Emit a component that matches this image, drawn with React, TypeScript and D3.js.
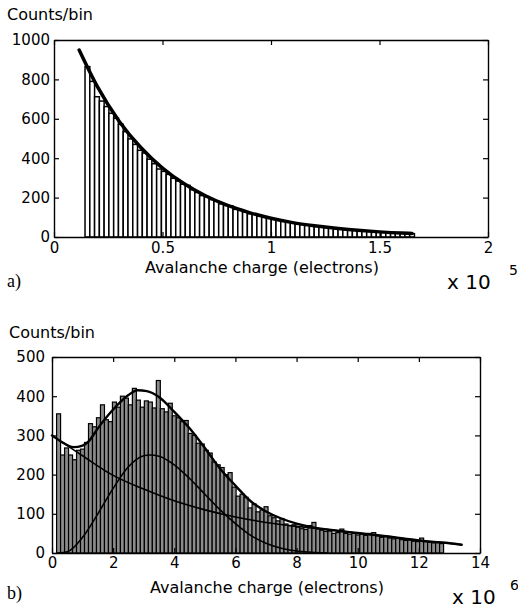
import { useEffect, useRef } from "react";
import * as d3 from "d3";

// panel a) : histogram, x in units of 10^5 electrons
const binStartA = 0.143;
const binWidthA = 0.022;
const countsA = [
  865, 790, 712, 690, 662, 628, 603, 572, 535, 498, 470, 440, 426, 395, 372,
  345, 333, 318, 298, 284, 268, 262, 240, 226, 210, 205, 190, 182, 168, 160,
  158, 140, 135, 128, 118, 115, 106, 100, 95, 90, 86, 80, 76, 72, 68, 64, 60,
  57, 54, 50, 48, 45, 42, 40, 38, 36, 34, 32, 30, 28, 27, 25, 24, 22, 21, 20,
  19, 18, 17,
];
const fitAX = [0.116, 0.2, 0.3, 0.4, 0.5, 0.6, 0.7, 0.8, 0.9, 1.0, 1.1, 1.2, 1.3, 1.4, 1.5, 1.6, 1.65];
const fitAY = [949, 763, 588, 454, 350, 270, 208, 160, 124, 95, 73, 57, 44, 34, 26, 20, 18];
const xTicksA = [0, 0.5, 1, 1.5, 2];
const yTicksA = [0, 200, 400, 600, 800, 1000];

// panel b) : histogram, x in units of 10^6 electrons
const binStartB = 0.15;
const binWidthB = 0.1305;
const countsB = [
  355, 250, 268, 250, 238, 262, 265, 282, 330, 322, 345, 378, 340, 335, 385,
  372, 400, 395, 378, 420, 390, 372, 388, 385, 370, 440, 368, 360, 382, 350,
  345, 335, 338, 305, 300, 280, 278, 262, 255, 232, 225, 218, 200, 205, 168,
  145, 150, 142, 115, 125, 105, 110, 118, 95, 90, 82, 88, 74, 70, 72, 66, 62,
  60, 70, 78, 62, 58, 55, 56, 50, 52, 61, 50, 48, 50, 46, 48, 45, 50, 52, 44,
  40, 42, 38, 36, 38, 34, 32, 33, 30, 29, 38, 30, 28, 26, 28, 24,
];
const totalX = [0, 0.3, 0.7, 1.0, 1.2, 1.5, 2.0, 2.5, 2.8, 3.1, 3.5, 4.0, 4.5, 5.0, 5.5, 6.0, 6.5, 7.0, 7.5, 8.0, 8.5, 9.0, 10, 11, 12, 12.5, 13.0, 13.4];
const totalY = [300, 284, 270, 274, 285, 318, 366, 403, 415, 413, 398, 360, 318, 268, 215, 172, 132, 106, 88, 75, 66, 60, 51, 42, 32, 28, 25, 21];
const expX = [0, 1, 2, 3, 4, 5, 6, 7, 8, 9, 10, 11, 12, 13, 13.4];
const expY = [300, 248, 198, 163, 133, 110, 92, 78, 68, 60, 51, 42, 32, 25, 21];
const gausX = [0.2, 0.5, 1.0, 1.5, 2.0, 2.5, 3.0, 3.2, 3.5, 4.0, 4.5, 5.0, 5.5, 6.0, 6.5, 7.0, 7.5, 8.0, 8.5, 9.0];
const gausY = [0, 3, 40, 100, 165, 220, 248, 250, 247, 225, 190, 150, 110, 75, 45, 25, 12, 5, 2, 0];
const xTicksB = [0, 2, 4, 6, 8, 10, 12, 14];
const yTicksB = [0, 100, 200, 300, 400, 500];

const SANS = "'DejaVu Sans', Verdana, sans-serif";
const SERIF = "'Liberation Serif', 'Times New Roman', serif";

interface Curve { xs: number[]; ys: number[]; w: number }
interface Panel {
  left: number; right: number; top: number; bottom: number;
  xDomain: [number, number]; yDomain: [number, number];
  xTicks: number[]; yTicks: number[];
  binStart: number; binWidth: number; counts: number[];
  barFill: string; barStroke: number;
  curves: Curve[];
  yPad: number; xPad: number;
}

function drawPanel(svg: d3.Selection<SVGSVGElement, unknown, null, undefined>, p: Panel) {
  const x = d3.scaleLinear().domain(p.xDomain).range([p.left, p.right]);
  const y = d3.scaleLinear().domain(p.yDomain).range([p.bottom, p.top]);
  const g = svg.append("g");

  // bars
  g.selectAll("rect.bar")
    .data(p.counts)
    .enter()
    .append("rect")
    .attr("class", "bar")
    .attr("x", (_d, i) => x(p.binStart + i * p.binWidth))
    .attr("width", x(p.binWidth) - x(0))
    .attr("y", (d) => y(d))
    .attr("height", (d) => y(0) - y(d))
    .attr("fill", p.barFill)
    .attr("stroke", "#000")
    .attr("stroke-width", p.barStroke);

  // fitted curves
  const line = d3
    .line<[number, number]>()
    .x((d) => x(d[0]))
    .y((d) => y(d[1]))
    .curve(d3.curveMonotoneX);
  p.curves.forEach((c) => {
    g.append("path")
      .datum(c.xs.map((v, i) => [v, c.ys[i]] as [number, number]))
      .attr("d", line)
      .attr("fill", "none")
      .attr("stroke", "#000")
      .attr("stroke-width", c.w)
      .attr("stroke-linejoin", "round")
      .attr("stroke-linecap", "round");
  });

  // axes, ticks pointing inwards
  const style = (a: d3.Selection<SVGGElement, unknown, null, undefined>) => {
    a.attr("font-family", SANS).attr("font-size", 15);
    a.select(".domain").attr("stroke-width", 1.4);
    a.selectAll(".tick line").attr("stroke-width", 1.2);
    a.selectAll(".tick text").attr("fill", "#000");
  };
  const fmt = (d: d3.NumberValue) => String(d);
  g.append("g")
    .attr("transform", `translate(${p.left},0)`)
    .call(d3.axisLeft(y).tickValues(p.yTicks).tickSize(-5).tickSizeOuter(0).tickPadding(p.yPad).tickFormat(fmt))
    .call(style);
  g.append("g")
    .attr("transform", `translate(${p.right},0)`)
    .call(d3.axisRight(y).tickValues(p.yTicks).tickSize(-5).tickSizeOuter(0).tickFormat(() => ""))
    .call(style);
  g.append("g")
    .attr("transform", `translate(0,${p.top})`)
    .call(d3.axisTop(x).tickValues(p.xTicks).tickSize(-5).tickSizeOuter(0).tickFormat(() => ""))
    .call(style);
  g.append("g")
    .attr("transform", `translate(0,${p.bottom})`)
    .call(d3.axisBottom(x).tickValues(p.xTicks).tickSize(-5).tickSizeOuter(0).tickPadding(p.xPad).tickFormat(fmt))
    .call(style);
}

const App = () => {
  const svgRef = useRef<SVGSVGElement | null>(null);

  useEffect(() => {
    const svg = d3.select(svgRef.current as SVGSVGElement);
    svg.selectAll("*").remove();

    drawPanel(svg, {
      left: 54, right: 488, top: 40, bottom: 237,
      xDomain: [0, 2], yDomain: [0, 1000],
      xTicks: xTicksA, yTicks: yTicksA,
      binStart: binStartA, binWidth: binWidthA, counts: countsA,
      barFill: "#fff", barStroke: 1.5,
      curves: [{ xs: fitAX, ys: fitAY, w: 3.5 }],
      yPad: 4, xPad: 5,
    });

    drawPanel(svg, {
      left: 52, right: 480, top: 357, bottom: 553,
      xDomain: [0, 14], yDomain: [0, 500],
      xTicks: xTicksB, yTicks: yTicksB,
      binStart: binStartB, binWidth: binWidthB, counts: countsB,
      barFill: "#8c8c8c", barStroke: 1.2,
      curves: [
        { xs: expX, ys: expY, w: 1.6 },
        { xs: gausX, ys: gausY, w: 1.6 },
        { xs: totalX, ys: totalY, w: 2.4 },
      ],
      yPad: 7, xPad: 4,
    });

    // labels
    const txt = (s: string, xx: number, yy: number, size: number, anchor = "start", family = SANS) =>
      svg.append("text")
        .attr("x", xx).attr("y", yy)
        .attr("font-family", family).attr("font-size", size)
        .attr("text-anchor", anchor).attr("fill", "#000")
        .text(s);

    txt("Counts/bin", 7, 20, 16);
    txt("Avalanche charge (electrons)", 262, 273, 16, "middle");
    txt("a)", 7, 287, 18, "start", SERIF);
    txt("x 10", 447, 289, 20);
    txt("5", 509, 275, 14);

    txt("Counts/bin", 9, 338, 16);
    txt("Avalanche charge (electrons)", 267, 593, 16, "middle");
    txt("b)", 7, 599, 18, "start", SERIF);
    txt("x 10", 452, 604, 20);
    txt("6", 510, 590, 14);
  }, []);

  return (
    <svg
      ref={svgRef}
      width={518}
      height={609}
      style={{ position: "absolute", left: 0, top: 0, background: "#fff" }}
    ></svg>
  );
};

export default App;
